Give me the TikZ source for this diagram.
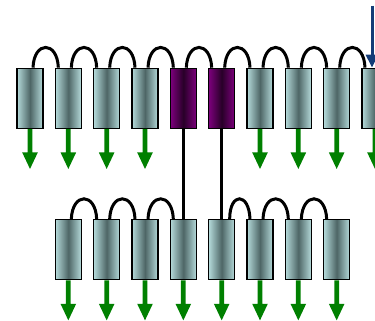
\documentclass[tikz,border=0pt]{standalone}
\usetikzlibrary{arrows.meta}
\definecolor{boxlight}{RGB}{180,218,218}
\definecolor{boxdark}{RGB}{78,102,102}
\definecolor{purlight}{RGB}{125,0,125}
\definecolor{purdark}{RGB}{40,0,40}
\definecolor{arrgreen}{RGB}{0,128,0}
\definecolor{arrblue}{RGB}{20,60,120}
\tikzset{
  helix/.style={draw=black, line width=1.3pt, minimum width=26pt, minimum height=60pt, inner sep=0pt,
    left color=boxlight, right color=boxlight, middle color=boxdark},
  phelix/.style={draw=black, line width=1.3pt, minimum width=26pt, minimum height=60pt, inner sep=0pt,
    left color=purlight, right color=purlight, middle color=purdark},
  loopline/.style={draw=black, line width=3pt},
  stalk/.style={draw=black, line width=3pt},
  barrow/.style={draw=arrblue, line width=3pt, -{Triangle[length=13pt,width=12pt]}},
  gdown/.pic={
    \fill[arrgreen] (-2.4,0) -- (-2.4,23.5) -- (-7.8,23.5) -- (0,40) -- (7.8,23.5) -- (2.4,23.5) -- (2.4,0) -- cycle;
  },
}
\begin{document}
\begin{tikzpicture}[x=1pt,y=-1pt]
\useasboundingbox (0,0) rectangle (375,321);
\clip (0,0) rectangle (375,321);
% top row
\node[helix]  (t1)  at (30,98.3) {};
\node[helix]  (t2)  at (68.33,98.3) {};
\node[helix]  (t3)  at (106.67,98.3) {};
\node[helix]  (t4)  at (145,98.3) {};
\node[phelix] (t5)  at (183.33,98.3) {};
\node[phelix] (t6)  at (221.67,98.3) {};
\node[helix]  (t7)  at (260,98.3) {};
\node[helix]  (t8)  at (298.33,98.3) {};
\node[helix]  (t9)  at (336.67,98.3) {};
\node[helix]  (t10) at (375,98.3) {};
% bottom row
\node[helix] (b1) at (68.33,249.7) {};
\node[helix] (b2) at (106.67,249.7) {};
\node[helix] (b3) at (145,249.7) {};
\node[helix] (b4) at (183.33,249.7) {};
\node[helix] (b5) at (221.67,249.7) {};
\node[helix] (b6) at (260,249.7) {};
\node[helix] (b7) at (298.33,249.7) {};
\node[helix] (b8) at (336.67,249.7) {};
% top loops
\foreach \a/\b in {t1/t2,t2/t3,t3/t4,t4/t5,t5/t6,t6/t7,t7/t8,t8/t9,t9/t10}{
  \draw[loopline] ([xshift=3pt]\a.north) .. controls +(1,-27) and +(-1,-27) .. ([xshift=-10pt]\b.north);
}
% bottom loops
\foreach \a/\b in {b1/b2,b2/b3,b3/b4,b6/b7,b7/b8}{
  \draw[loopline] ([xshift=3pt]\a.north) .. controls +(1,-27) and +(-1,-27) .. ([xshift=-10pt]\b.north);
}
\draw[loopline] ([xshift=8pt]b5.north) .. controls +(0,-27) and +(-1,-27) .. ([xshift=-10pt]b6.north);
% stalks
\draw[stalk] (t5.south) -- (b4.north);
\draw[stalk] (t6.south) -- (b5.north);
% green arrows
\foreach \n in {t1,t2,t3,t4,t7,t8,t9,t10,b1,b2,b3,b4,b5,b6,b7,b8}{
  \pic at (\n.south) {gdown};
}
% blue arrow
\coordinate (bstart) at ([xshift=-3pt,yshift=62pt]t10.north);
\draw[barrow] (bstart) -- ([xshift=-3pt]t10.north);
\end{tikzpicture}
\end{document}
